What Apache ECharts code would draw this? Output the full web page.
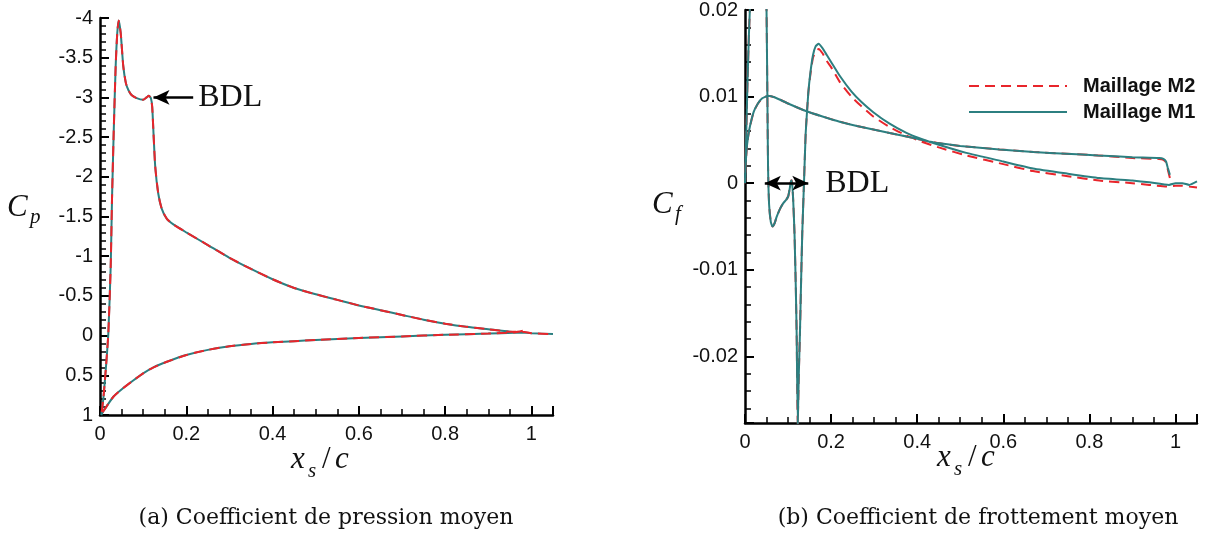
<!DOCTYPE html>
<html><head><meta charset="utf-8">
<script src="https://cdn.jsdelivr.net/npm/echarts@6/dist/echarts.min.js"></script>
<style>html,body{margin:0;padding:0;background:#fff}#c{width:1209px;height:535px}</style>
</head><body><div id="c"></div>
<script>
// ---------- data ----------
// (a) pressure coefficient, suction side (upper branch of the loop)
const cpUpperX  = [0.003, 0.008, 0.0139, 0.0193, 0.0248, 0.0278, 0.0317, 0.0363, 0.040, 0.0433, 0.048, 0.054, 0.060, 0.066, 0.073, 0.085, 0.100, 0.108, 0.113, 0.118, 0.121, 0.124, 0.128, 0.135, 0.143, 0.155, 0.17, 0.2, 0.25, 0.3, 0.35, 0.4, 0.45, 0.5, 0.55, 0.6, 0.65, 0.7, 0.75, 0.8, 0.85, 0.9, 0.95, 0.98, 1.0, 1.05];
const cpUpperM1 = [1.0, 0.78, 0.39, -0.03, -0.87, -1.71, -2.55, -3.39, -3.81, -3.97, -3.81, -3.39, -3.18, -3.09, -3.03, -2.99, -2.97, -3.0, -3.02, -2.99, -2.88, -2.55, -2.13, -1.79, -1.60, -1.47, -1.40, -1.30, -1.14, -0.98, -0.84, -0.71, -0.60, -0.52, -0.45, -0.38, -0.32, -0.26, -0.20, -0.15, -0.11, -0.08, -0.05, -0.04, -0.03, -0.02];
const cpUpperM2 = [1.0, 0.78, 0.39, -0.03, -0.87, -1.71, -2.55, -3.39, -3.81, -3.97, -3.81, -3.39, -3.18, -3.09, -3.03, -2.99, -2.97, -3.0, -3.02, -2.99, -2.88, -2.55, -2.13, -1.79, -1.60, -1.47, -1.40, -1.30, -1.14, -0.98, -0.84, -0.71, -0.60, -0.52, -0.45, -0.38, -0.32, -0.26, -0.20, -0.15, -0.11, -0.08, -0.05, -0.05, -0.03, -0.02];
// (a) pressure side (lower branch of the loop)
const cpLowerX  = [0.003, 0.008, 0.0155, 0.031, 0.054, 0.077, 0.1, 0.124, 0.155, 0.2, 0.25, 0.3, 0.35, 0.4, 0.45, 0.5, 0.6, 0.7, 0.8, 0.9, 0.96, 0.98];
const cpLowerM1 = [1.0, 0.95, 0.89, 0.77, 0.66, 0.565, 0.475, 0.40, 0.33, 0.245, 0.18, 0.135, 0.105, 0.085, 0.07, 0.055, 0.03, 0.01, -0.01, -0.025, -0.035, -0.04];
const cpLowerM2 = [1.0, 0.95, 0.89, 0.77, 0.66, 0.565, 0.475, 0.40, 0.33, 0.245, 0.18, 0.135, 0.105, 0.085, 0.07, 0.055, 0.03, 0.01, -0.01, -0.025, -0.04, -0.06];

// (b) skin friction coefficient, suction side
const cfUpperX  = [0.0, 0.003, 0.006, 0.009, 0.012, 0.02, 0.03, 0.04, 0.046, 0.050, 0.052, 0.0535, 0.056, 0.060, 0.064, 0.069, 0.0735, 0.081, 0.089, 0.096, 0.1005, 0.104, 0.107, 0.109, 0.112, 0.115, 0.118, 0.120, 0.1225, 0.125, 0.1276, 0.130, 0.133, 0.137, 0.141, 0.147, 0.152, 0.158, 0.164, 0.171, 0.18, 0.19, 0.2, 0.22, 0.247, 0.27, 0.298, 0.335, 0.375, 0.41, 0.452, 0.514, 0.6, 0.669, 0.75, 0.823, 0.9, 0.939, 0.985, 1.0, 1.016, 1.032, 1.05];
const cfUpperM1 = [0.0, 0.006, 0.012, 0.017, 0.021, 0.030, 0.036, 0.034, 0.028, 0.020, 0.010, 0.002, -0.0025, -0.0045, -0.005, -0.0046, -0.0039, -0.0030, -0.0023, -0.0019, -0.0015, -0.0006, 0.0003, 0.0003, -0.002, -0.0058, -0.012, -0.0174, -0.0278, -0.022, -0.0174, -0.012, -0.0058, 0.0, 0.0058, 0.0104, 0.0128, 0.0148, 0.0158, 0.0161, 0.0156, 0.0148, 0.0140, 0.0124, 0.0106, 0.0094, 0.0082, 0.0069, 0.0058, 0.0051, 0.0044, 0.0035, 0.0025, 0.0017, 0.0011, 0.0006, 0.0003, 0.0001, -0.0002, 0.0, 0.0, -0.0002, 0.0002];
const cfUpperM2 = [0.0, 0.006, 0.012, 0.017, 0.021, 0.030, 0.036, 0.034, 0.028, 0.020, 0.010, 0.002, -0.0025, -0.0045, -0.005, -0.0046, -0.0039, -0.0030, -0.0023, -0.0019, -0.0015, -0.0006, 0.0003, 0.0003, -0.002, -0.0058, -0.012, -0.0174, -0.0278, -0.022, -0.0174, -0.012, -0.0058, 0.0, 0.0058, 0.0104, 0.0126, 0.0145, 0.0152, 0.0155, 0.0150, 0.0141, 0.0134, 0.0117, 0.0100, 0.0089, 0.0077, 0.0065, 0.0055, 0.0048, 0.0041, 0.0032, 0.0022, 0.0014, 0.0008, 0.0003, 0.0, -0.0002, -0.0004, -0.0003, -0.0003, -0.0004, -0.0005];
// (b) pressure side
const cfLowerX  = [0.0, 0.002, 0.005, 0.01, 0.02, 0.03, 0.04, 0.054, 0.07, 0.1, 0.143, 0.18, 0.22, 0.26, 0.298, 0.336, 0.375, 0.41, 0.452, 0.5, 0.591, 0.67, 0.746, 0.82, 0.9, 0.962, 0.972, 0.978, 0.982, 0.987];
const cfLowerM1 = [0.0, 0.0025, 0.0045, 0.0062, 0.0082, 0.0092, 0.0098, 0.0101, 0.0099, 0.0092, 0.0083, 0.0077, 0.0071, 0.0066, 0.0062, 0.0058, 0.0054, 0.0050, 0.0046, 0.0043, 0.0039, 0.0036, 0.0034, 0.0032, 0.0030, 0.0029, 0.0028, 0.0025, 0.0018, 0.00096];
const cfLowerM2 = [0.0, 0.0025, 0.0045, 0.0062, 0.0082, 0.0092, 0.0098, 0.0101, 0.0099, 0.0092, 0.0083, 0.0077, 0.0071, 0.0066, 0.0062, 0.0058, 0.0054, 0.0050, 0.0046, 0.0043, 0.0039, 0.0036, 0.0034, 0.0032, 0.0029, 0.0028, 0.0027, 0.0024, 0.0016, 0.0006];

const xTickStep = 0.2, cpTickStep = 0.5;
const legendNames = ['Maillage M2', 'Maillage M1'];
const captionA = '(a) Coefficient de pression moyen';
const captionB = '(b) Coefficient de frottement moyen';

// ---------- build ----------
const zip = (xs, ys) => xs.map((x, i) => [x, ys[i]]);
// loop: pressure side from trailing edge to stagnation, then suction side
const loop = (lx, ly, ux, uy) => zip(lx, ly).reverse().concat(zip(ux, uy).slice(1));
const cpM1 = loop(cpLowerX, cpLowerM1, cpUpperX, cpUpperM1);
const cpM2 = loop(cpLowerX, cpLowerM2, cpUpperX, cpUpperM2);
const cfM1 = loop(cfLowerX, cfLowerM1, cfUpperX, cfUpperM1);
const cfM2 = loop(cfLowerX, cfLowerM2, cfUpperX, cfUpperM2);

const TEAL = '#2c7f80', RED = '#e8252b', INK = '#111';
const SANS = '"Liberation Sans", Arial, sans-serif';
const SERIF = '"Liberation Serif", "Times New Roman", serif';
const TICK_FONT = 20;

function xAxisOf(gi) {
  return {
    type: 'value', gridIndex: gi, min: 0, max: 1.05, interval: xTickStep,
    axisLine: {show: true, onZero: false, lineStyle: {color: '#000', width: 2.5}},
    axisTick: {show: true, inside: true, length: 9, lineStyle: {color: '#000', width: 2}},
    minorTick: {show: true, splitNumber: 4, length: 6, lineStyle: {color: '#000', width: 1.5}},
    axisLabel: {show: true, margin: 9, showMaxLabel: false, fontFamily: SANS, fontSize: TICK_FONT, color: INK},
    splitLine: {show: false}, minorSplitLine: {show: false}
  };
}
const yAxisCommon = {
  axisLine: {show: true, onZero: false, lineStyle: {color: '#000', width: 2.5}},
  axisTick: {show: true, inside: true, length: 9, lineStyle: {color: '#000', width: 2}},
  minorTick: {show: true, splitNumber: 5, length: 6, lineStyle: {color: '#000', width: 1.5}},
  splitLine: {show: false}, minorSplitLine: {show: false}
};

const arrowLabel = {show: true, formatter: 'BDL', fontFamily: SERIF, fontSize: 32, color: INK};

function txt(x, y, text, font, align) {
  return {type: 'text', x: x, y: y, silent: true,
    style: {text: text, font: font, fill: INK, textAlign: align || 'left', textVerticalAlign: 'middle'}};
}
const BIG = 'italic 31px ' + SERIF, SUB = 'italic 21px ' + SERIF;

const option = {
  animation: false,
  backgroundColor: '#fff',
  grid: [
    {left: 100, top: 18, width: 453, height: 397, show: false, containLabel: false, outerBoundsMode: 'none'},
    {left: 745, top: 10, width: 452, height: 413, show: false, containLabel: false, outerBoundsMode: 'none'}
  ],
  xAxis: [xAxisOf(0), xAxisOf(1)],
  yAxis: [
    Object.assign({}, yAxisCommon, {
      type: 'value', gridIndex: 0, min: -4, max: 1, interval: cpTickStep, inverse: true,
      axisLabel: {show: true, margin: 7, fontFamily: SANS, fontSize: TICK_FONT, color: INK}
    }),
    Object.assign({}, yAxisCommon, {
      type: 'value', gridIndex: 1, min: -0.0277, max: 0.02, splitNumber: 5, minInterval: 0.01, maxInterval: 0.01,
      axisLabel: {show: true, margin: 7, showMinLabel: false, fontFamily: SANS, fontSize: TICK_FONT, color: INK}
    })
  ],
  legend: {
    data: legendNames, orient: 'vertical', left: 968, top: 76, padding: 0,
    itemWidth: 98, itemHeight: 12, itemGap: 6, selectedMode: false,
    itemStyle: {opacity: 0},
    textStyle: {fontFamily: SANS, fontWeight: 'bold', fontSize: 20, color: INK, padding: [0, 0, 0, 11]}
  },
  series: [
    {
      name: 'Maillage M1', type: 'line', xAxisIndex: 0, yAxisIndex: 0, data: cpM1,
      symbol: 'none', smooth: 0.2, lineStyle: {color: TEAL, width: 2}, itemStyle: {color: TEAL},
      markLine: {
        silent: true, animation: false, symbol: ['none', 'arrow'], symbolSize: [11, 16],
        lineStyle: {color: '#000', width: 2.5, type: 'solid'},
        label: Object.assign({position: 'start', distance: 5}, arrowLabel),
        data: [[{coord: [0.216, -3]}, {coord: [0.124, -3]}]]
      }
    },
    {
      name: 'Maillage M2', type: 'line', xAxisIndex: 0, yAxisIndex: 0, data: cpM2,
      symbol: 'none', smooth: 0.2, lineStyle: {color: RED, width: 2, type: [10, 6]}, itemStyle: {color: RED}
    },
    {
      name: 'Maillage M2', type: 'line', xAxisIndex: 1, yAxisIndex: 1, data: cfM2,
      symbol: 'none', smooth: 0.15, lineStyle: {color: RED, width: 2, type: [10, 6]}, itemStyle: {color: RED}
    },
    {
      name: 'Maillage M1', type: 'line', xAxisIndex: 1, yAxisIndex: 1, data: cfM1,
      symbol: 'none', smooth: 0.15, lineStyle: {color: TEAL, width: 2}, itemStyle: {color: TEAL},
      markLine: {
        silent: true, animation: false, symbol: ['arrow', 'arrow'], symbolSize: [11, 16],
        lineStyle: {color: '#000', width: 2.5, type: 'solid'},
        label: Object.assign({position: 'end', distance: 17}, arrowLabel),
        data: [[{coord: [0.046, 0]}, {coord: [0.147, 0]}]]
      }
    }
  ],
  graphic: [
    txt(7, 208, 'C', BIG), txt(30, 217, 'p', SUB),
    txt(652, 205, 'C', BIG), txt(675, 214, 'f', SUB),
    txt(291, 460, 'x', BIG), txt(308, 471, 's', SUB), txt(322, 460, '/', '31px ' + SERIF), txt(335, 460, 'c', BIG),
    txt(937, 458, 'x', BIG), txt(954, 469, 's', SUB), txt(968, 458, '/', '31px ' + SERIF), txt(981, 458, 'c', BIG),
    txt(326, 518, captionA, '22px "DejaVu Serif", serif', 'center'),
    txt(978, 518, captionB, '22px "DejaVu Serif", serif', 'center')
  ]
};

const chart = echarts.init(document.getElementById('c'), null, {renderer: 'canvas'});
chart.setOption(option);
</script>
</body></html>
